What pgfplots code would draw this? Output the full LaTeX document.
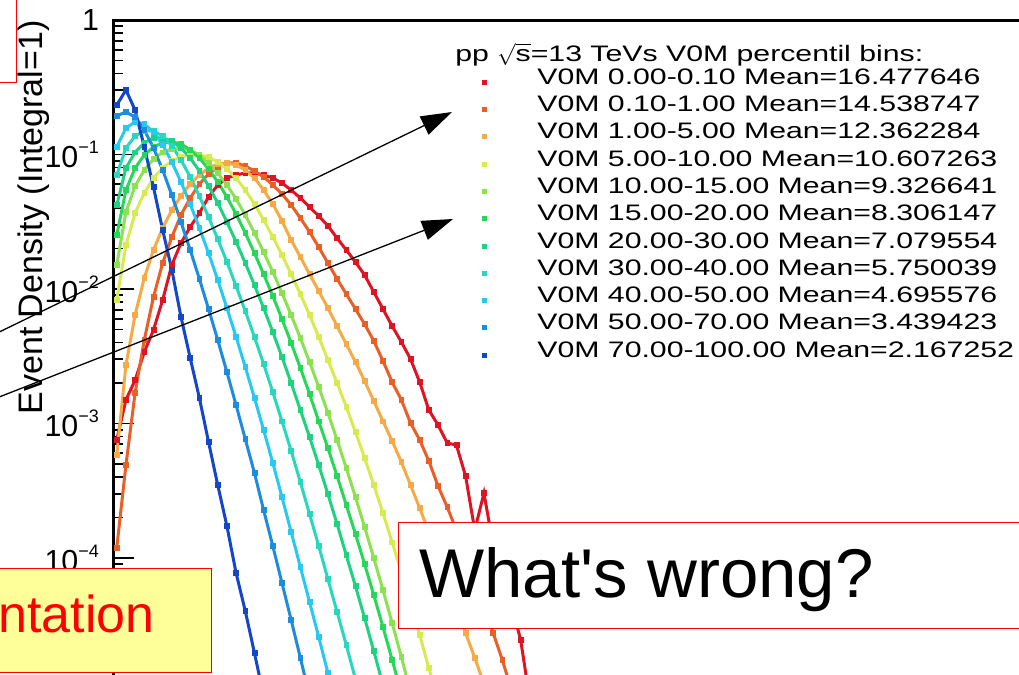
\documentclass[border=0pt]{standalone}
\usepackage{fontspec}
\setmainfont{Liberation Sans}
\newfontfamily\legfont{Liberation Sans}[FakeStretch=1.35]
\newfontfamily\slidefont{Liberation Sans}[Ligatures=TeXOff]
\usepackage{amsmath}
\usepackage{pgfplots}
\pgfplotsset{compat=1.18}
\usetikzlibrary{arrows.meta}

\definecolor{v1}{RGB}{220,20,35}
\definecolor{v2}{RGB}{232,96,40}
\definecolor{v3}{RGB}{245,170,70}
\definecolor{v4}{RGB}{215,235,80}
\definecolor{v5}{RGB}{140,225,80}
\definecolor{v6}{RGB}{40,215,90}
\definecolor{v7}{RGB}{30,210,130}
\definecolor{v8}{RGB}{40,215,190}
\definecolor{v9}{RGB}{40,200,240}
\definecolor{v10}{RGB}{30,140,220}
\definecolor{v11}{RGB}{20,70,200}
\definecolor{boxyellow}{RGB}{255,255,153}

\pgfplotsset{vstyle/.style={color=#1, mark=square*, mark size=1.2pt, line width=1.5pt, mark options={solid, line width=0.3pt}}}
\newcommand{\tenpow}[1]{10\raisebox{7pt}{\fontsize{9}{9}\selectfont −#1}}

\begin{document}
\begin{tikzpicture}
\path[use as bounding box] (0pt,-337.5pt) rectangle (509.5pt,0pt);
\clip (0pt,-337.5pt) rectangle (509.5pt,0pt);
\begin{axis}[
    at={(57pt,-10pt)}, anchor=north west,
    scale only axis, width=492.5pt, height=403.5pt,
    xmin=-0.3, xmax=107,
    ymode=log, ymin=1e-6, ymax=1,
    xtick=\empty,
    ytick={1e-6,1e-5,1e-4,1e-3,1e-2,1e-1,1},
    yticklabels={,,\tenpow{4},\tenpow{3},\tenpow{2},\tenpow{1},1},
    ytick pos=left, tick align=inside,
    major tick length=10pt, minor tick length=4.5pt,
    tick style={line width=0.9pt, black},
    axis line style={line width=1.5pt},
    yticklabel style={font=\fontsize{15.2}{15.2}\selectfont, xshift=-4pt},
    legend cell align=left,
    legend style={at={(axis description cs:0.3731,0.97398)}, anchor=north west,
        draw=none, fill=none, inner sep=0pt,
        font=\legfont\fontsize{11.2}{12}\selectfont,
        row sep=5.15pt,
        nodes={inner sep=0pt, text height=8pt, text depth=0pt}},
    legend image code/.code={
        \path[draw=none, fill=none] (0pt,-4.25pt) rectangle (27.75pt,4.25pt);
        \fill[#1,draw=none] (0pt,-4.25pt) rectangle (2.5pt,-1.75pt);
    },
]
\addlegendimage{empty legend}
\addlegendentry{\hspace*{-41pt}\raisebox{-2pt}{pp $\sqrt{\text{s}}$=13 TeVs V0M percentil bins:}}

% V0M 0.00-0.10
\addplot[vstyle=v1] coordinates {
(0,7.54e-4) (1,1.50e-3) (2,2.10e-3) (3,3.40e-3) (4,4.96e-3) (5,8.28e-3) (6,0.0151) (7,0.0220)
(8,0.0289) (9,0.0367) (10,0.0483) (11,0.0593) (12,0.0669) (13,0.0704) (14,0.0729) (15,0.0729)
(16,0.0704) (17,0.0669) (18,0.0614) (19,0.0544) (20,0.0475) (21,0.0407) (22,0.0349) (23,0.0295)
(24,0.0239) (25,0.0195) (26,0.0159) (27,0.0127) (28,9.50e-3) (29,7.10e-3) (30,5.30e-3) (31,4.04e-3)
(32,3.02e-3) (33,2.03e-3) (34,1.26e-3) (35,9.75e-4) (36,7.16e-4) (37,6.92e-4) (38,4.07e-4) (39,1.61e-4)
(40,3.04e-4) (41,1.25e-4) (42,7.47e-5) (43,4.47e-5) (44,2.46e-5) (45,8.80e-6)
};
\addlegendentry{V0M 0.00-0.10 Mean=16.477646}

% V0M 0.10-1.00
\addplot[vstyle=v2] coordinates {
(0,1.19e-4) (1,4.91e-4) (2,1.69e-3) (3,4.18e-3) (4,8.72e-3) (5,0.0156) (6,0.0244) (7,0.0355)
(8,0.0475) (9,0.0604) (10,0.0716) (11,0.0808) (12,0.0865) (13,0.0865) (14,0.0821) (15,0.0754)
(16,0.0681) (17,0.0593) (18,0.0509) (19,0.0421) (20,0.0337) (21,0.0266) (22,0.0205) (23,0.0156)
(24,0.0119) (25,9.18e-3) (26,7.10e-3) (27,5.49e-3) (28,4.11e-3) (29,2.92e-3) (30,2.03e-3) (31,1.50e-3)
(32,1.01e-3) (33,7.54e-4) (34,5.26e-4) (35,3.43e-4) (36,2.39e-4) (37,1.61e-4) (38,1.09e-4) (39,7.10e-5)
(40,4.63e-5) (41,2.77e-5) (42,1.75e-5) (43,1.04e-5) (44,6.25e-6)
};
\addlegendentry{V0M 0.10-1.00 Mean=14.538747}

% V0M 1.00-5.00
\addplot[vstyle=v3] coordinates {
(0,5.83e-4) (1,2.72e-3) (2,6.41e-3) (3,0.0121) (4,0.0195) (5,0.0284) (6,0.0386) (7,0.0491)
(8,0.0604) (9,0.0704) (10,0.0794) (11,0.0850) (12,0.0865) (13,0.0835) (14,0.0767) (15,0.0669)
(16,0.0544) (17,0.0429) (18,0.0320) (19,0.0231) (20,0.0173) (21,0.0129) (22,9.66e-3) (23,7.22e-3)
(24,5.30e-3) (25,3.90e-3) (26,2.87e-3) (27,2.07e-3) (28,1.47e-3) (29,1.04e-3) (30,7.41e-4) (31,5.18e-4)
(32,3.49e-4) (33,2.35e-4) (34,1.56e-4) (35,1.02e-4) (36,6.63e-5) (37,4.32e-5) (38,2.77e-5) (39,1.81e-5)
(40,1.16e-5) (41,7.16e-6)
};
\addlegendentry{V0M 1.00-5.00 Mean=12.362284}

% V0M 5.00-10.00
\addplot[vstyle=v4] coordinates {
(0,8.28e-3) (1,0.0212) (2,0.0367) (3,0.0518) (4,0.0669) (5,0.0794) (6,0.0895) (7,0.0958)
(8,0.0991) (9,0.0991) (10,0.0958) (11,0.0880) (12,0.0780) (13,0.0669) (14,0.0544) (15,0.0429)
(16,0.0326) (17,0.0244) (18,0.0179) (19,0.0129) (20,9.18e-3) (21,6.41e-3) (22,4.40e-3) (23,2.97e-3)
(24,2.00e-3) (25,1.33e-3) (26,8.65e-4) (27,5.54e-4) (28,3.49e-4) (29,2.16e-4) (30,1.31e-4) (31,7.87e-5)
(32,4.63e-5) (33,2.68e-5) (34,1.52e-5) (35,8.50e-6)
};
\addlegendentry{V0M 5.00-10.00 Mean=10.607263}

% V0M 10.00-15.00
\addplot[vstyle=v5] coordinates {
(0,0.0151) (1,0.0374) (2,0.0583) (3,0.0767) (4,0.0926) (5,0.104) (6,0.110) (7,0.112)
(8,0.108) (9,0.0991) (10,0.0865) (11,0.0729) (12,0.0593) (13,0.0467) (14,0.0355) (15,0.0261)
(16,0.0188) (17,0.0134) (18,9.34e-3) (19,6.41e-3) (20,4.32e-3) (21,2.87e-3) (22,1.87e-3) (23,1.20e-3)
(24,7.54e-4) (25,4.67e-4) (26,2.84e-4) (27,1.70e-4) (28,1.00e-4) (29,5.78e-5) (30,3.29e-5) (31,1.84e-5)
(32,1.01e-5) (33,5.44e-6)
};
\addlegendentry{V0M 10.00-15.00 Mean=9.326641}

% V0M 15.00-20.00
\addplot[vstyle=v6] coordinates {
(0,0.0252) (1,0.0544) (2,0.0794) (3,0.0991) (4,0.114) (5,0.122) (6,0.124) (7,0.120)
(8,0.108) (9,0.0942) (10,0.0780) (11,0.0625) (12,0.0483) (13,0.0361) (14,0.0261) (15,0.0185)
(16,0.0129) (17,8.87e-3) (18,5.98e-3) (19,3.97e-3) (20,2.59e-3) (21,1.66e-3) (22,1.04e-3) (23,6.57e-4)
(24,4.07e-4) (25,2.48e-4) (26,1.51e-4) (27,9.02e-5) (28,5.30e-5) (29,3.07e-5) (30,1.75e-5) (31,9.91e-6)
(32,5.54e-6)
};
\addlegendentry{V0M 15.00-20.00 Mean=8.306147}

% V0M 20.00-30.00
\addplot[vstyle=v7] coordinates {
(0,0.0421) (1,0.0794) (2,0.104) (3,0.122) (4,0.133) (5,0.133) (6,0.126) (7,0.112)
(8,0.0942) (9,0.0754) (10,0.0583) (11,0.0436) (12,0.0315) (13,0.0224) (14,0.0156) (15,0.0107)
(16,7.22e-3) (17,4.79e-3) (18,3.12e-3) (19,2.00e-3) (20,1.26e-3) (21,7.94e-4) (22,4.91e-4) (23,2.99e-4)
(24,1.79e-4) (25,1.05e-4) (26,6.19e-5) (27,3.58e-5) (28,2.03e-5) (29,1.14e-5) (30,6.25e-6)
};
\addlegendentry{V0M 20.00-30.00 Mean=7.079554}

% V0M 30.00-40.00
\addplot[vstyle=v8] coordinates {
(0,0.0704) (1,0.112) (2,0.137) (3,0.150) (4,0.150) (5,0.137) (6,0.116) (7,0.0910)
(8,0.0681) (9,0.0491) (10,0.0343) (11,0.0235) (12,0.0159) (13,0.0105) (14,6.86e-3) (15,4.40e-3)
(16,2.77e-3) (17,1.71e-3) (18,1.04e-3) (19,6.25e-4) (20,3.67e-4) (21,2.12e-4) (22,1.23e-4) (23,6.98e-5)
(24,3.97e-5) (25,2.26e-5) (26,1.26e-5) (27,7.04e-6)
};
\addlegendentry{V0M 30.00-40.00 Mean=5.750039}

% V0M 40.00-50.00
\addplot[vstyle=v9] coordinates {
(0,0.114) (1,0.157) (2,0.175) (3,0.169) (4,0.147) (5,0.118) (6,0.0880) (7,0.0625)
(8,0.0429) (9,0.0284) (10,0.0185) (11,0.0117) (12,7.22e-3) (13,4.40e-3) (14,2.63e-3) (15,1.55e-3)
(16,8.95e-4) (17,5.09e-4) (18,2.84e-4) (19,1.56e-4) (20,8.58e-5) (21,4.71e-5) (22,2.59e-5) (23,1.40e-5)
(24,7.41e-6)
};
\addlegendentry{V0M 40.00-50.00 Mean=4.695576}

% V0M 50.00-70.00
\addplot[vstyle=v10] coordinates {
(0,0.194) (1,0.207) (2,0.190) (3,0.152) (4,0.112) (5,0.0767) (6,0.0500) (7,0.0315)
(8,0.0195) (9,0.0119) (10,7.10e-3) (11,4.18e-3) (12,2.41e-3) (13,1.37e-3) (14,7.67e-4) (15,4.29e-4)
(16,2.27e-4) (17,1.23e-4) (18,6.52e-5) (19,3.46e-5) (20,1.81e-5) (21,9.42e-6) (22,4.91e-6)
};
\addlegendentry{V0M 50.00-70.00 Mean=3.439423}

% V0M 70.00-100.00
\addplot[vstyle=v11] coordinates {
(0,0.233) (1,0.302) (2,0.214) (3,0.114) (4,0.0573) (5,0.0275) (6,0.0139) (7,6.19e-3)
(8,3.07e-3) (9,1.55e-3) (10,7.29e-4) (11,3.49e-4) (12,1.73e-4) (13,7.74e-5) (14,4.04e-5) (15,1.97e-5)
(16,9.42e-6) (17,4.44e-6)
};
\addlegendentry{V0M 70.00-100.00 Mean=2.167252}
\end{axis}

% y axis title, ROOT style (aligned to the top of the frame)
\node[rotate=90, anchor=east, inner sep=0pt, text height=12.2pt, text depth=0pt,
      font=\fontsize{17}{17}\selectfont] at (15pt,-10pt) {Event Density (Integral=1)};

% slide annotations on top of the plot
\draw[line width=0.65pt, -{Triangle[length=15.5pt,width=10pt]}] (-5pt,-168.25pt) -- (226pt,-56pt);
\draw[line width=0.65pt, -{Triangle[length=15.5pt,width=10pt]}] (-5pt,-200.3pt) -- (226.5pt,-109.5pt);

\draw[red, line width=0.5pt, fill=white] (-5pt,5pt) rectangle (8pt,-41pt);

\draw[red, line width=0.5pt, fill=boxyellow] (-5pt,-284pt) rectangle (105.5pt,-336pt);
\node[anchor=base east, inner sep=0pt, text=red, font=\slidefont\fontsize{26}{26}\selectfont] at (77.5pt,-316pt) {ntation};

\draw[red, line width=0.5pt, fill=white] (199pt,-261pt) rectangle (515pt,-314pt);
\node[anchor=base west, inner sep=0pt, font=\slidefont\fontsize{34.5}{35}\selectfont] at (209.5pt,-298.5pt) {What's wrong?};
\end{tikzpicture}
\end{document}
